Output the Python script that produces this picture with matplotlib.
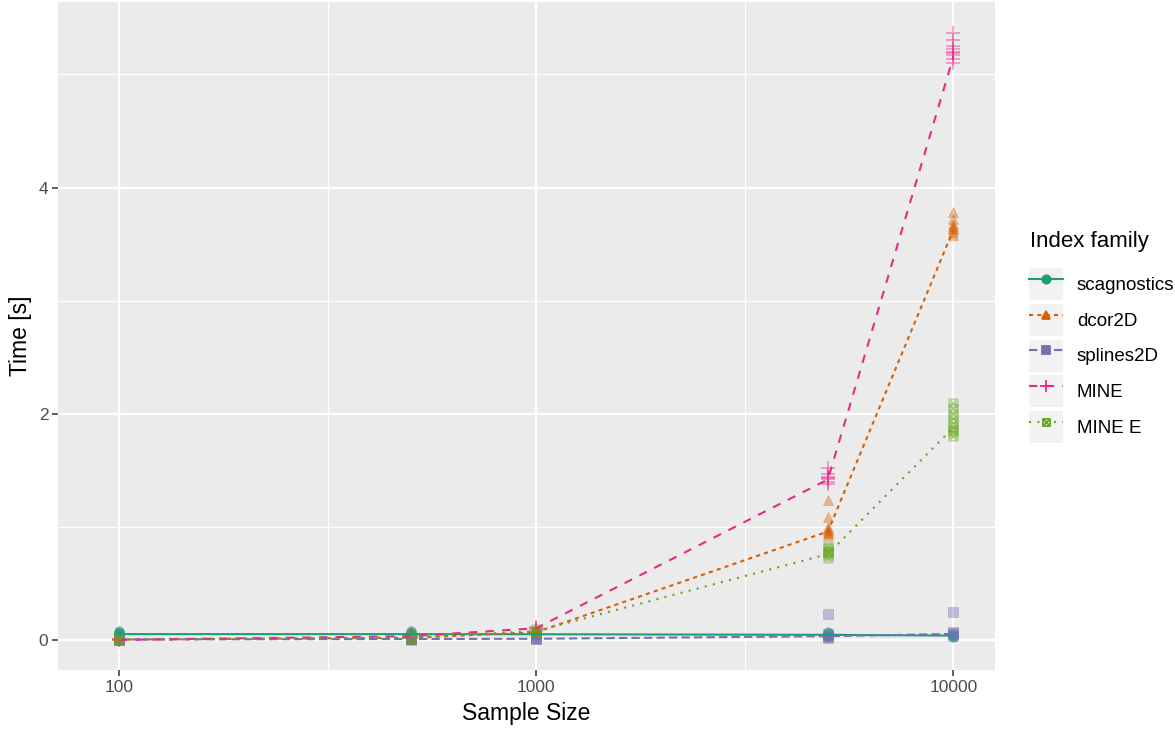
import numpy as np
import matplotlib.pyplot as plt
from matplotlib.path import Path
from matplotlib.patches import Rectangle
from matplotlib.legend_handler import HandlerLine2D
from matplotlib.ticker import FixedLocator, NullFormatter

plt.rcParams['font.family'] = ['Liberation Sans', 'DejaVu Sans']

# sample sizes and index families
sizes = [100, 500, 1000, 5000, 10000]
families = ['scagnostics', 'dcor2D', 'splines2D', 'MINE', 'MINE E']

# mean time per sample size (line)
scag_mean = [0.053, 0.053, 0.052, 0.047, 0.040]
dcor_mean = [0.004, 0.020, 0.070, 0.960, 3.630]
spl_mean = [0.006, 0.010, 0.012, 0.035, 0.055]
mine_mean = [0.002, 0.035, 0.105, 1.420, 5.160]
minee_mean = [0.008, 0.025, 0.080, 0.760, 1.880]

# individual runs per sample size (points)
scag_runs = [[0.03, 0.04, 0.05, 0.05, 0.06, 0.06, 0.07, 0.08],
             [0.03, 0.04, 0.05, 0.06, 0.07, 0.08],
             [0.04, 0.05, 0.06, 0.06, 0.07],
             [0.03, 0.04, 0.05, 0.06, 0.07],
             [0.03, 0.04, 0.04, 0.05]]
dcor_runs = [[0.00, 0.01, 0.01, 0.02],
             [0.01, 0.02, 0.03, 0.04],
             [0.05, 0.06, 0.07, 0.08, 0.09],
             [0.93, 0.95, 0.96, 0.97, 0.98, 1.00, 1.09, 1.24],
             [3.58, 3.61, 3.63, 3.64, 3.66, 3.68, 3.72, 3.78]]
spl_runs = [[0.00, 0.00, 0.01, 0.01],
            [0.00, 0.01, 0.01, 0.02],
            [0.01, 0.01, 0.02, 0.02],
            [0.02, 0.03, 0.04, 0.05, 0.23],
            [0.04, 0.05, 0.06, 0.07, 0.25]]
mine_runs = [[0.00, 0.00, 0.01, 0.01],
             [0.02, 0.03, 0.04, 0.05],
             [0.08, 0.10, 0.11, 0.12],
             [1.38, 1.40, 1.42, 1.43, 1.44, 1.47, 1.52],
             [5.10, 5.14, 5.17, 5.19, 5.20, 5.22, 5.25, 5.30, 5.37]]
minee_runs = [[0.00, 0.01, 0.01, 0.02],
              [0.01, 0.02, 0.03, 0.04],
              [0.06, 0.07, 0.08, 0.10],
              [0.73, 0.75, 0.77, 0.78, 0.79, 0.81, 0.83],
              [1.80, 1.84, 1.86, 1.88, 1.92, 1.96, 2.00, 2.05, 2.10]]

means = [scag_mean, dcor_mean, spl_mean, mine_mean, minee_mean]
runs = [scag_runs, dcor_runs, spl_runs, mine_runs, minee_runs]
colors = ['#1B9E77', '#D95F02', '#7570B3', '#E7298A', '#66A61E']
dashes = [None, (2, 2), (4, 2), (4, 4), (1, 3)]

# square with a cross inside (ggplot shape 7)
sqx = Path([(-1, -1), (1, -1), (1, 1), (-1, 1), (-1, -1), (-1, -1), (1, 1), (-1, 1), (1, -1)],
           [Path.MOVETO, Path.LINETO, Path.LINETO, Path.LINETO, Path.CLOSEPOLY,
            Path.MOVETO, Path.LINETO, Path.MOVETO, Path.LINETO])
markers = ['o', '^', 's', '+', sqx]
msizes = [7, 7.5, 6.5, 10, 6]


class KeyHandler(HandlerLine2D):
    # grey ggplot-style key box behind each legend entry
    def create_artists(self, legend, orig_handle, xdescent, ydescent, width, height, fontsize, trans):
        arts = super().create_artists(legend, orig_handle, xdescent, ydescent, width, height, fontsize, trans)
        bg = Rectangle((-xdescent, -ydescent), width, height,
                       facecolor='#F2F2F2', edgecolor='none', transform=trans)
        return [bg] + arts


fig = plt.figure(figsize=(11.75, 7.32), dpi=100)
ax = fig.add_axes([0.0494, 0.0847, 0.7976, 0.9126])
ax.set_facecolor('#EBEBEB')
for s in ax.spines.values():
    s.set_visible(False)

ax.set_xscale('log')
ax.set_xlim(10 ** 1.854, 10 ** 4.1)
ax.set_ylim(-0.264, 5.64)
ax.xaxis.set_major_locator(FixedLocator([100, 1000, 10000]))
ax.xaxis.set_minor_locator(FixedLocator([10 ** 2.5, 10 ** 3.5]))
ax.xaxis.set_minor_formatter(NullFormatter())
ax.set_xticklabels(['100', '1000', '10000'])
ax.yaxis.set_major_locator(FixedLocator([0, 2, 4]))
ax.yaxis.set_minor_locator(FixedLocator([1, 3, 5]))
ax.grid(which='major', color='white', linewidth=1.6)
ax.grid(which='minor', color='white', linewidth=0.8)
ax.set_axisbelow(True)
ax.tick_params(which='major', length=4, width=1.1, color='#333333', labelsize=12.5,
               labelcolor='#4D4D4D', pad=3)
ax.tick_params(which='minor', length=0)

handles = []
for name, m, r, c, d, mk, ms in zip(families, means, runs, colors, dashes, markers, msizes):
    for x, vals in zip(sizes, r):
        ax.plot([x] * len(vals), vals, linestyle='none', marker=mk, markersize=ms,
                color=c, alpha=0.4, markeredgewidth=1.4 if (mk == '+' or mk is sqx) else 0.5,
                markerfacecolor='none' if mk is sqx else c, zorder=3)
    ln, = ax.plot(sizes, m, color=c, linewidth=1.5, zorder=4)
    if d is not None:
        ln.set_dashes(d)
    h, = ax.plot([], [], color=c, linewidth=1.5, marker=mk, markersize=ms * 0.85,
                 markerfacecolor='none' if mk is sqx else c, markeredgewidth=1.3)
    if d is not None:
        h.set_dashes(d)
    handles.append(h)

ax.set_xlabel('Sample Size', fontsize=16.5, labelpad=5)
ax.set_ylabel('Time [s]', fontsize=16.5, labelpad=5)

fig.text(1030 / 1175, 1 - 242 / 732, 'Index family', fontsize=16, va='center', ha='left')
leg = fig.legend(handles, families, loc='upper left', bbox_to_anchor=(1029 / 1175, 1 - 268 / 732),
                 frameon=False, fontsize=13.5,
                 handlelength=1.8, handleheight=2.25, labelspacing=0.2, handletextpad=0.75,
                 borderpad=0, borderaxespad=0,
                 handler_map={h: KeyHandler() for h in handles})

fig.savefig('out.png', dpi=100)
